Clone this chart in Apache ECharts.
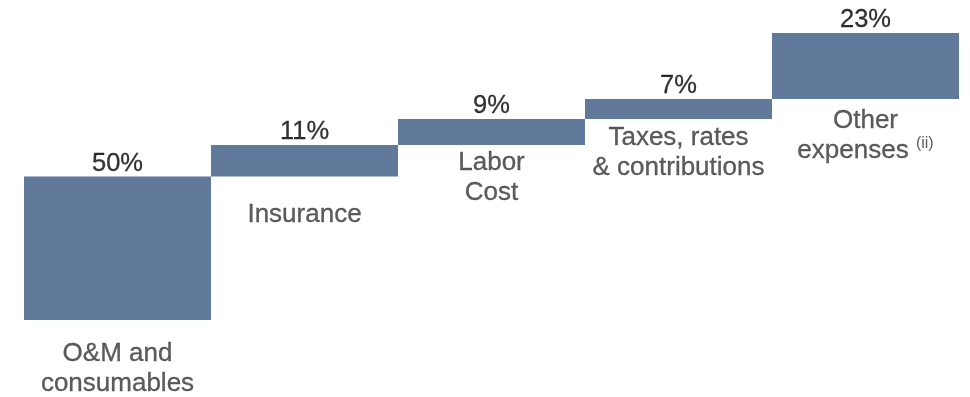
<!DOCTYPE html>
<html>
<head>
<meta charset="utf-8">
<script src="https://cdn.jsdelivr.net/npm/echarts@6/dist/echarts.min.js"></script>
<style>
  html, body { margin: 0; padding: 0; background: #fff; }
  #chart { width: 970px; height: 397px; }
</style>
</head>
<body>
<div id="chart"></div>
<script>
// Cost breakdown (% of total), drawn as a rising waterfall
const categories = ['O&M and\nconsumables', 'Insurance', 'Labor\nCost', 'Taxes, rates\n& contributions', 'Other\nexpenses'];
const shares = [50, 11, 9, 7, 23];
const footnotes = ['', '', '', '', '(ii)'];

// Gap between each bar's bottom edge and its category text
const nameGaps = [19, 23.5, 3, 4, 6.5];

// Running totals: where each step starts and ends
const bases = [];
const tops = [];
let running = 0;
shares.forEach(v => { bases.push(running); running += v; tops.push(running); });

const BAR = '#617a9b';
const FONT = '"Liberation Sans", Arial, sans-serif';
const NAME_COLOR = '#333333';

const chart = echarts.init(document.getElementById('chart'), null, { renderer: 'canvas' });

chart.setOption({
  animation: false,
  grid: { left: 24, right: 11, top: 33, bottom: 77, containLabel: false },
  xAxis: { type: 'category', data: categories, show: false, boundaryGap: true },
  yAxis: { type: 'value', min: 0, max: 100, show: false },
  series: [
    {
      name: 'base', type: 'bar', stack: 'steps', silent: true,
      itemStyle: { color: 'transparent' },
      data: bases,
      barCategoryGap: 0
    },
    {
      name: 'share', type: 'bar', stack: 'steps',
      itemStyle: { color: BAR },
      data: shares,
      barCategoryGap: 0
    },
    {
      // value labels sitting on top of each step
      name: 'values', type: 'scatter', symbolSize: 0, silent: true,
      data: tops,
      label: {
        show: true, position: 'top', distance: -2,
        fontFamily: FONT, fontSize: 25.5, lineHeight: 30, color: '#000',
        textBorderColor: '#000', textBorderWidth: 0.3,
        formatter: p => shares[p.dataIndex] + '%'
      }
    },
    {
      // category names hanging under each step
      name: 'names', type: 'scatter', symbolSize: 0, silent: true,
      data: bases.map((b, i) => ({ value: b, label: { distance: nameGaps[i] } })),
      label: {
        show: true, position: 'bottom',
        fontFamily: FONT, fontSize: 26, lineHeight: 30, color: NAME_COLOR, align: 'center',
        formatter: p => {
          const lines = categories[p.dataIndex].split('\n');
          const note = footnotes[p.dataIndex];
          return lines.map((ln, k) => {
            const last = k === lines.length - 1;
            return '{t|' + ln + (last && note ? ' ' : '') + '}' + (last && note ? '{sup|' + note + '}' : '');
          }).join('\n');
        },
        rich: {
          t: { fontFamily: FONT, fontSize: 26, lineHeight: 30, color: NAME_COLOR,
               textBorderColor: NAME_COLOR, textBorderWidth: 0.3 },
          sup: { fontFamily: FONT, fontSize: 16, lineHeight: 26, color: NAME_COLOR, verticalAlign: 'top' }
        }
      }
    }
  ]
});
</script>
</body>
</html>
